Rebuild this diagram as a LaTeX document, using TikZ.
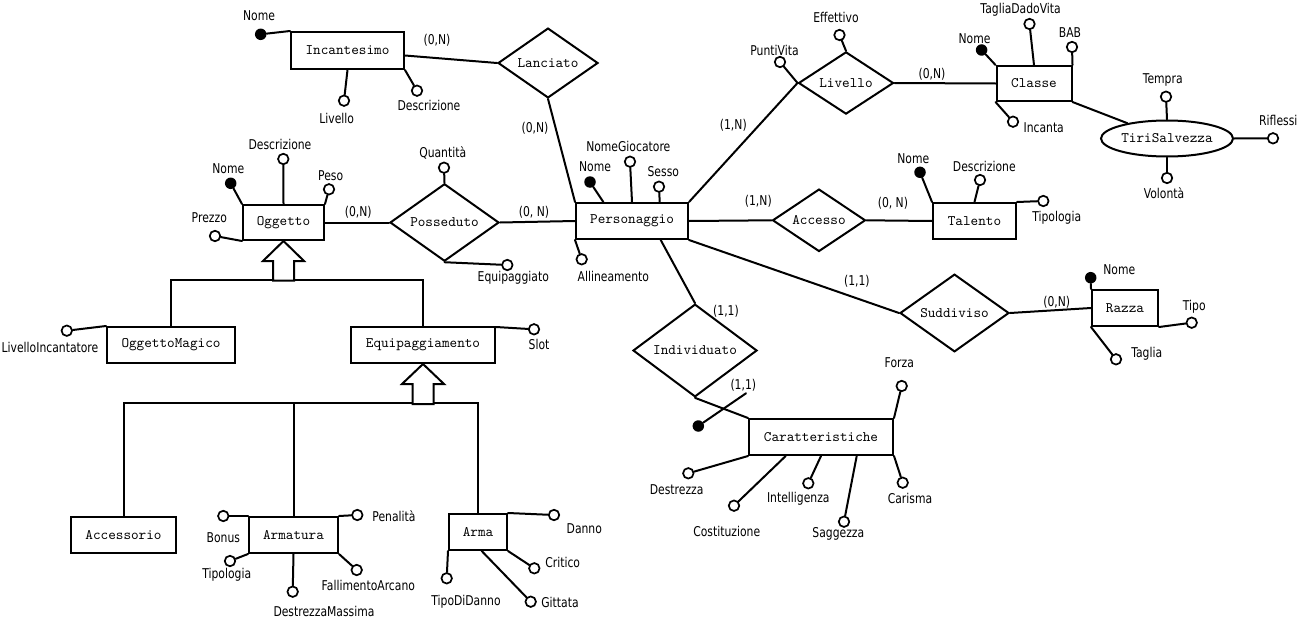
\documentclass[tikz,border=0pt]{standalone}
\usepackage{fontspec}
\setmainfont{DejaVu Sans}[FakeStretch=0.8]
\newfontfamily\entfont{lmmono10-regular.otf}
\usetikzlibrary{shapes.geometric,calc}

% attribute: circle name, circle position, text, text position, point on the owner
\newcommand\attrib[5]{%
  \node[att] (#1) at (#2) {};
  \node[lbl] (#1-t) at (#4) {#3};
  \draw[ln] (#5) -- (#1);}
% key attribute: filled dot
\newcommand\keyattr[5]{%
  \node[keyatt] (#1) at (#2) {};
  \node[lbl] (#1-t) at (#4) {#3};
  \draw[ln] (#5) -- (#1);}

\begin{document}
\begin{tikzpicture}[x=1pt,y=-1pt,
  ln/.style={line width=2pt,line cap=round},
  ent/.style={draw,line width=2pt,fill=white,inner sep=0pt,
    font=\entfont\fontsize{14.5}{16}\selectfont},
  rel/.style={diamond,draw,line width=2pt,fill=white,inner sep=0pt,
    font=\entfont\fontsize{14.5}{16}\selectfont},
  att/.style={circle,draw,line width=1.7pt,fill=white,inner sep=0pt,minimum size=10.5pt},
  keyatt/.style={circle,fill=black,inner sep=0pt,minimum size=11.5pt},
  lbl/.style={inner sep=0pt,font=\fontsize{13.5}{15}\selectfont},
  card/.style={lbl}]
\fill[white] (0,0) rectangle (1297,618);
\useasboundingbox (0,0) rectangle (1297,618);

% ---------- entities ----------
\node[ent,minimum width=113pt,minimum height=37pt] (inc) at (347.5,50.5) {Incantesimo};
\node[ent,minimum width=81pt,minimum height=35pt] (og) at (283.5,222.5) {Oggetto};
\node[ent,minimum width=112pt,minimum height=36pt] (per) at (632,221) {Personaggio};
\node[ent,minimum width=75pt,minimum height=35pt] (cla) at (1034,83.5) {Classe};
\node[ent,minimum width=83pt,minimum height=36pt] (tal) at (974.5,221) {Talento};
\node[ent,minimum width=66pt,minimum height=36pt] (raz) at (1125,308) {Razza};
\node[ent,minimum width=144pt,minimum height=36pt] (car) at (821,437) {Caratteristiche};
\node[ent,minimum width=128pt,minimum height=36pt] (om) at (171,345) {OggettoMagico};
\node[ent,minimum width=144pt,minimum height=36pt] (eq) at (423,345) {Equipaggiamento};
\node[ent,minimum width=105pt,minimum height=36pt] (acc) at (123.5,535) {Accessorio};
\node[ent,minimum width=89pt,minimum height=36pt] (arm) at (293.5,535) {Armatura};
\node[ent,minimum width=58pt,minimum height=36pt] (arma) at (478,532) {Arma};

% ---------- relationships ----------
\node[rel,minimum width=100pt,minimum height=62pt] (lan) at (548,63) {Lanciato};
\node[rel,minimum width=95pt,minimum height=57pt] (liv) at (846,83) {Livello};
\node[rel,minimum width=109pt,minimum height=65pt] (pos) at (444.5,222.5) {Posseduto};
\node[rel,minimum width=93pt,minimum height=56pt] (acs) at (819,220.3) {Accesso};
\node[rel,minimum width=109pt,minimum height=66pt] (sud) at (954.5,313) {Suddiviso};
\node[rel,minimum width=124pt,minimum height=75pt] (ind) at (695,350.5) {Individuato};

% composite attribute
\node[ellipse,draw,line width=2pt,fill=white,inner sep=0pt,minimum width=132pt,
  minimum height=36pt,font=\entfont\fontsize{14.5}{16}\selectfont] (ts) at (1167,138.5) {TiriSalvezza};

% ---------- relationship connectors ----------
\draw[ln] ([yshift=-5pt]inc.east) -- (lan.west);
\draw[ln] (lan.south) -- (per.north west);
\draw[ln] (og.east) -- (pos.west);
\draw[ln] (pos.east) -- (per.west);
\draw[ln] (per.north east) -- (liv.west);
\draw[ln] (liv.east) -- (cla.west);
\draw[ln] (per.east) -- (acs.west);
\draw[ln] (acs.east) -- (tal.west);
\draw[ln] (per.south east) -- (sud.west);
\draw[ln] (sud.east) -- (raz.west);
\draw[ln] ([xshift=28.7pt]per.south) -- (ind.north);
\draw[ln] (ind.south) -- (car.north west);
\draw[ln] (cla.south east) -- (ts);

% cardinalities
\node[card] (c1) at (437,40.7) {(0,N)};
\node[card] (c2) at (535,128) {(0,N)};
\node[card] (c3) at (358.3,212.7) {(0,N)};
\node[card] (c4) at (534,212.7) {(0, N)};
\node[card] (c5) at (733.3,125) {(1,N)};
\node[card] (c6) at (932,74) {(0,N)};
\node[card] (c7) at (758.3,201) {(1,N)};
\node[card] (c8) at (892.9,203.3) {(0, N)};
\node[card] (c9) at (856.9,281.7) {(1,1)};
\node[card] (c10) at (1056.7,302.3) {(0,N)};
\node[card] (c11) at (726,311) {(1,1)};
\node[card] (c12) at (743.3,385) {(1,1)};

% external identifier of Caratteristiche
\coordinate (idend) at (746,393.3);
\node[keyatt] (idk) at (698.3,426) {};
\draw[ln] (idk) -- (idend);

% ---------- attributes ----------
\keyattr{incN}{260.7,34.3}{Nome}{259,16}{inc.north west}
\attrib{incL}{344,100.7}{Livello}{336.7,118.3}{inc.south}
\attrib{incD}{417,90.7}{Descrizione}{429,105}{inc.south east}

\keyattr{ogN}{230.7,183.3}{Nome}{228.3,168.3}{og.north west}
\attrib{ogD}{283.3,159}{Descrizione}{280,144}{og.north}
\attrib{ogP}{329,189.3}{Peso}{330.7,176}{og.north east}
\attrib{ogZ}{215,236}{Prezzo}{209.3,217.3}{og.south west}

\attrib{posQ}{444,167.7}{Quantità}{442.7,152.7}{pos.north}
\attrib{posE}{507.3,265}{Equipaggiato}{513.3,277.3}{pos.south}

\keyattr{perN}{590,182}{Nome}{595,166.7}{[xshift=-28.7pt]per.north}
\attrib{perG}{630,161.7}{NomeGiocatore}{628.3,146.7}{per.north}
\attrib{perS}{659,186.7}{Sesso}{663.3,171.7}{[xshift=27.7pt]per.north}
\attrib{perA}{581.7,259.3}{Allineamento}{613.3,276.7}{per.south west}

\attrib{livP}{780,62}{PuntiVita}{774.5,50}{liv.west}
\attrib{livE}{839.5,35}{Effettivo}{836,17}{liv.north}

\keyattr{claN}{981.6,50}{Nome}{974.5,39}{cla.north west}
\attrib{claT}{1029.5,24}{TagliaDadoVita}{1020.6,9.3}{cla.north}
\attrib{claB}{1072,47}{BAB}{1070,32.7}{cla.north east}
\attrib{claI}{1013,121.7}{Incanta}{1043.7,127.7}{cla.south west}

\attrib{tsT}{1166,96.7}{Tempra}{1162.7,80}{ts.north}
\node[att] (tsR) at (1273,138.3) {};
\node[lbl,anchor=west] (tsR-t) at (1259,120.7) {Riflessi};
\draw[ln] (ts.east) -- (tsR);
\attrib{tsV}{1167,178}{Volontà}{1164,192.7}{ts.south}

\keyattr{talN}{920,172.3}{Nome}{913.3,159}{tal.north west}
\attrib{talD}{980,180}{Descrizione}{984.3,166.7}{tal.north}
\attrib{talT}{1043.3,201}{Tipologia}{1056.7,217.7}{tal.north east}

\keyattr{razN}{1090.7,277.7}{Nome}{1119.3,269.3}{raz.north west}
\attrib{razT}{1191.7,322.7}{Tipo}{1194.3,306.7}{raz.south east}
\attrib{razG}{1116,359.3}{Taglia}{1146.7,353.3}{raz.south west}

\attrib{carF}{901.7,386}{Forza}{899.3,362.3}{car.north east}
\attrib{carD}{688.3,473.3}{Destrezza}{676.7,489.3}{car.south west}
\attrib{carC}{734,505.7}{Costituzione}{726.7,531}{[xshift=-35.3pt]car.south}
\attrib{carI}{808.3,483.3}{Intelligenza}{798.3,498.3}{car.south}
\attrib{carS}{844,521.7}{Saggezza}{838.3,534.3}{[xshift=35.7pt]car.south}
\attrib{carK}{902.7,482.7}{Carisma}{910,498.3}{car.south east}

\attrib{omL}{66.8,330.7}{LivelloIncantatore}{50,347.7}{om.north west}
\attrib{eqS}{534,329.3}{Slot}{539,344}{[yshift=-1pt]eq.north east}

\attrib{armB}{223.3,516}{Bonus}{223.3,537.3}{arm.north west}
\attrib{armP}{357.3,515}{Penalità}{394,515.7}{arm.north east}
\attrib{armT}{230,561}{Tipologia}{226.7,574.3}{arm.south west}
\attrib{armD}{292.7,591.7}{DestrezzaMassima}{324,611}{arm.south}
\attrib{armF}{356.7,570}{FallimentoArcano}{368.3,585}{arm.south east}

\attrib{armaD}{554,515}{Danno}{584.3,528.3}{arma.north east}
\attrib{armaC}{534.3,568.3}{Critico}{562.7,562.7}{arma.south east}
\attrib{armaG}{530.7,601.7}{Gittata}{560,602.3}{[xshift=3.7pt]arma.south}
\attrib{armaT}{446.7,578.3}{TipoDiDanno}{466,601.7}{arma.south west}

% ---------- generalizations ----------
\coordinate (g1) at (og.south);
\coordinate (h1) at (282.5,280);
\draw[ln,line cap=butt] (om.north) |- (h1) -| (eq.north);
\draw[line width=2pt,fill=white,line join=miter] (g1) -- ++(20.5,20) -- ++(-10,0) -- ++(0,19.5)
  -- ++(-21,0) -- ++(0,-19.5) -- ++(-10,0) -- cycle;

\coordinate (g2) at (eq.south);
\coordinate (h2) at (423,403);
\draw[ln,line cap=butt] (acc.north) |- (h2) -| (arma.north);
\draw[ln,line cap=butt] (arm.north) -- (arm.north |- h2);
\draw[line width=2pt,fill=white,line join=miter] (g2) -- ++(21,20) -- ++(-10.5,0) -- ++(0,20)
  -- ++(-21,0) -- ++(0,-20) -- ++(-10.5,0) -- cycle;
\end{tikzpicture}
\end{document}
